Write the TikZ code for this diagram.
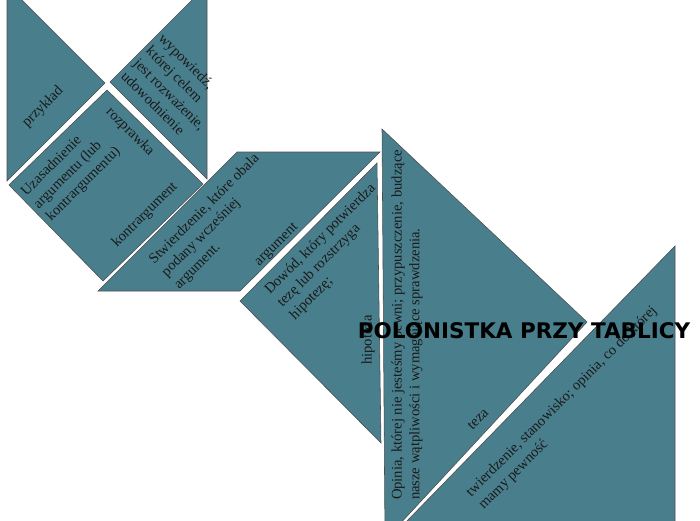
\documentclass[tikz,border=0pt]{standalone}
\usepackage{fontspec}
\setmainfont{Liberation Serif}
\newfontfamily\titlefont{DejaVu Sans}
\usepackage{xcolor}
\usetikzlibrary{positioning}
\definecolor{tealpiece}{RGB}{73,127,141}

\begin{document}
\begin{tikzpicture}[x=0.25mm, y=-0.25mm,
    piece/.style={fill=tealpiece, draw=black!70, line width=0.4pt},
    lbl/.style={font=\fontsize{10.4}{12.6}\selectfont, text=black!90, align=left, inner sep=0pt}]
  \useasboundingbox (0,0) rectangle (700,520);

  % tangram pieces
  \begin{scope}
    \clip (0,0) rectangle (700,520);
    \draw[piece] (7,-15) -- (105,83) -- (7,181) -- cycle;
    \draw[piece] (207,-15) -- (110,82) -- (207,179) -- cycle;
    \draw[piece] (107,90) -- (203,184) -- (103,281) -- (9,185) -- cycle;
    \draw[piece] (98,291) -- (240,291) -- (380,152) -- (237,152) -- cycle;
    \draw[piece] (377,163) -- (240,301) -- (381,443) -- cycle;
    \draw[piece] (382,129) -- (587,322) -- (385,540) -- cycle;
    \draw[piece] (675,246) -- (675,525) -- (403,525) -- cycle;
  \end{scope}

  % labels
  \node[lbl, rotate=45] (przyklad) at (43,107) {przykład};
  \node[lbl, rotate=-45] (wypowiedz) at (176,88) {wypowiedź,\\której celem\\jest rozważenie,\\udowodnienie};
  \node[lbl, rotate=-45] (rozprawka) at (130,132) {rozprawka};
  \node[lbl, rotate=45] (uzasadnienie) at (71,172) {Uzasadnienie\\argumentu (lub\\kontrargumentu)};
  \node[lbl, rotate=45] (kontrargument) at (145,215) {kontrargument};
  \node[lbl, rotate=45] (stwierdzenie) at (217,222) {Stwierdzenie, które obala\\podany wcześniej\\argument.};
  \node[lbl, rotate=45] (argument) at (277,245) {argument};
  \node[lbl, rotate=45] (dowod) at (333,252) {Dowód, który potwierdza\\tezę lub rozstrzyga\\hipotezę;};
  \node[lbl, rotate=90] (hipoteza) at (368,340) {hipoteza};
  \node[lbl, rotate=90] (opinia) at (407,325) {Opinia, której nie jesteśmy pewni; przypuszczenie, budzące\\nasze wątpliwości i wymagające sprawdzenia.};
  \node[lbl, rotate=45] (teza) at (478,419) {teza};
  \node[lbl, rotate=45] (twierdzenie) at (568,408) {twierdzenie, stanowisko; opinia, co do której\\mamy pewność};

  \node[font=\titlefont\bfseries\fontsize{15.3}{17}\selectfont, inner sep=0pt] (tytul) at (524,331) {POLONISTKA PRZY TABLICY};
\end{tikzpicture}
\end{document}
